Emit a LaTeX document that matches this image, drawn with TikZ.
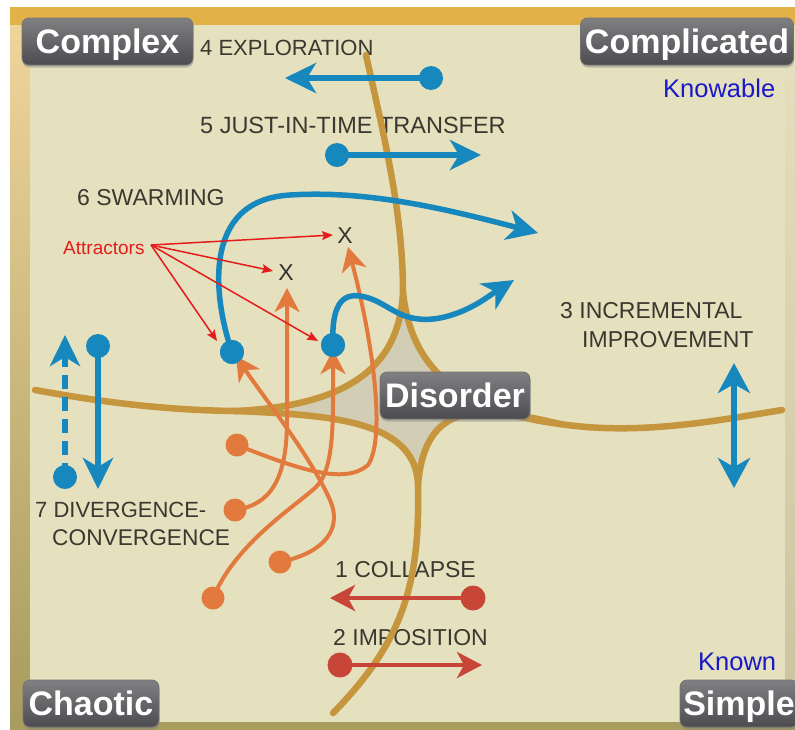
\documentclass[tikz,border=0pt]{standalone}
\usepackage{fontspec}
\setmainfont{Liberation Sans}
\usetikzlibrary{arrows.meta,shadows}

\definecolor{cream}{RGB}{229,224,189}
\definecolor{gold}{RGB}{226,178,72}
\definecolor{olive}{RGB}{168,156,94}
\definecolor{boundary}{RGB}{198,150,62}
\definecolor{disorderfill}{RGB}{210,206,181}
\definecolor{cynblue}{RGB}{22,136,190}
\definecolor{cynorange}{RGB}{226,122,62}
\definecolor{cynred}{RGB}{200,70,56}
\definecolor{attred}{RGB}{228,28,28}
\definecolor{labelgray}{RGB}{58,56,48}
\definecolor{knowblue}{RGB}{25,25,200}
\definecolor{boxtop}{RGB}{128,128,131}
\definecolor{boxbot}{RGB}{76,76,80}

\newcommand\domfont{\fontsize{34}{40}\selectfont\bfseries}

\begin{document}
\begin{tikzpicture}[x=1pt,y=-1pt,
  domainbox/.style={rounded corners=7pt, top color=boxtop, bottom color=boxbot,
    draw=black!55, line width=0.8pt, text=white, font=\domfont,
    inner sep=0pt, text height=24.3pt, text depth=0pt, minimum height=47pt,
    drop shadow={shadow xshift=0.5pt, shadow yshift=-2.5pt, opacity=0.45}},
  lab/.style={text=labelgray, inner sep=0pt, anchor=base west,
    font=\fontsize{23}{26}\selectfont},
  know/.style={text=knowblue, inner sep=0pt, anchor=base west,
    font=\fontsize{25.5}{28}\selectfont},
  bound/.style={draw=boundary, line width=6.5pt, line cap=round},
  bdot/.style={circle, fill=cynblue, minimum size=24pt, inner sep=0pt},
  odot/.style={circle, fill=cynorange, minimum size=23pt, inner sep=0pt},
  rdot/.style={circle, fill=cynred, minimum size=25pt, inner sep=0pt},
  bline/.style={draw=cynblue, line width=5.5pt,
    -{Stealth[length=31pt,width=30pt,inset=9pt]}},
  oline/.style={draw=cynorange, line width=4pt,
    -{Stealth[length=24pt,width=25pt,inset=7pt]}},
  rline/.style={draw=cynred, line width=4.5pt,
    -{Stealth[length=25pt,width=26pt,inset=7pt]}},
  attline/.style={draw=attred, line width=1.5pt,
    -{Stealth[length=11pt,width=9pt,inset=2pt]}},
  xmark/.style={text=black!80, inner sep=0pt, font=\fontsize{23}{23}\selectfont}
]
\useasboundingbox (0,0) rectangle (795,729);

% frame and panel
\fill[white] (0,0) rectangle (795,729);
\shade[top color=gold, bottom color=olive] (10,7) rectangle (795,729);
\shade[top color=gold!55!white, middle color=white!88!cream, bottom color=olive]
  (10,25) rectangle (30,722);
\shade[top color=cream, middle color=white!90!cream, bottom color=olive!60!white]
  (785,25) rectangle (795,722);
\fill[gold] (10,7) rectangle (795,25);
\fill[olive] (10,722) rectangle (795,729);
\fill[cream] (30,25) rectangle (785,722);

% cusp points of the central region
\coordinate (T) at (403,292);
\coordinate (L) at (235,411);
\coordinate (B) at (418,485);
\coordinate (R) at (560,424);

% central disorder region
\fill[disorderfill] (T) .. controls (410,360) and (450,410) .. (R)
  .. controls (480,405) and (425,400) .. (B)
  .. controls (416,420) and (330,415) .. (L)
  .. controls (370,405) and (400,350) .. (T) -- cycle;

% text labels
\node[lab, font=\fontsize{22}{26}\selectfont] (l4) at (200,55) {4 EXPLORATION};
\node[lab, font=\fontsize{23.5}{26}\selectfont] (l5) at (200,133) {5 JUST-IN-TIME TRANSFER};
\node[lab] (l6) at (77,205) {6 SWARMING};
\node[lab] (l3a) at (560,318) {3 INCREMENTAL};
\node[lab] (l3b) at (582,347) {IMPROVEMENT};
\node[lab, font=\fontsize{22}{26}\selectfont] (l7a) at (35,517) {7 DIVERGENCE-};
\node[lab, font=\fontsize{22.7}{26}\selectfont] (l7b) at (52,545) {CONVERGENCE};
\node[lab] (l1) at (335,577) {1 COLLAPSE};
\node[lab] (l2) at (333,645) {2 IMPOSITION};
\node[know] (kn1) at (663,97) {Knowable};
\node[know] (kn2) at (698,670) {Known};

% domain boundaries
\draw[bound] (366,55) .. controls (385,140) and (403,215) .. (T);
\draw[bound] (T) .. controls (400,350) and (370,405) .. (L);
\draw[bound] (T) .. controls (410,360) and (450,410) .. (R);
\draw[bound] (L) .. controls (330,415) and (416,420) .. (B);
\draw[bound] (R) .. controls (480,405) and (425,400) .. (B);
\draw[bound] (L) .. controls (150,410) and (80,398) .. (35,390);
\draw[bound] (R) .. controls (640,436) and (720,420) .. (782,410);
\draw[bound] (B) .. controls (420,580) and (405,640) .. (333,713);

% 1 collapse, 2 imposition
\node[rdot] (d1) at (473,598) {};
\coordinate (t1) at (330,598);
\draw[rline] (d1.center) -- (t1);
\node[rdot] (d2) at (340,665) {};
\coordinate (t2) at (482,665);
\draw[rline] (d2.center) -- (t2);

% 3 incremental improvement
\coordinate (t3a) at (734,363);
\coordinate (t3b) at (734,488);
\draw[draw=cynblue, line width=5.5pt,
  {Stealth[length=30pt,width=32pt,inset=9pt]}-{Stealth[length=30pt,width=32pt,inset=9pt]}]
  (t3a) -- (t3b);

% 4 exploration, 5 just-in-time transfer
\node[bdot] (d4) at (431,78) {};
\coordinate (t4) at (285,78);
\draw[bline] (d4.center) -- (t4);
\node[bdot] (d5) at (337,155) {};
\coordinate (t5) at (481,155);
\draw[bline] (d5.center) -- (t5);

% 7 divergence-convergence
\node[bdot] (d7a) at (65,477) {};
\coordinate (t7a) at (65,335);
\draw[bline, dash pattern=on 14pt off 8pt] (d7a.center) -- (t7a);
\node[bdot] (d7b) at (98,346) {};
\coordinate (t7b) at (98,489);
\draw[bline] (d7b.center) -- (t7b);

% orange trajectories
\node[odot] (o1) at (237,445) {};
\node[odot] (o2) at (235,510) {};
\node[odot] (o3) at (280,562) {};
\node[odot] (o4) at (213,598) {};
\node[bdot] (s1) at (232,352) {};
\node[bdot] (s2) at (333,345) {};
\node[xmark] (x1) at (286,273) {X};
\node[xmark] (x2) at (345,236) {X};
\coordinate (tx1) at (287,288);
\coordinate (tx2) at (348,247);
\coordinate (ts1) at (236,356);
\coordinate (ts2) at (333,350);

\draw[oline] (o1.center) .. controls (300,470) and (345,485) .. (368,465)
  .. controls (385,440) and (375,350) .. (tx2);
\draw[oline] (o2.center) .. controls (270,505) and (287,480) .. (287,420) -- (tx1);
\draw[oline] (o3.center) .. controls (315,555) and (345,535) .. (330,500)
  .. controls (310,455) and (262,395) .. (ts1);
\draw[oline] (o4.center) .. controls (235,545) and (290,510) .. (315,488)
  .. controls (335,470) and (333,420) .. (ts2);

% 6 swarming
\coordinate (t6a) at (538,233);
\coordinate (t6b) at (514,280);
\draw[bline] (s1.center) .. controls (214,300) and (200,200) .. (290,195)
  .. controls (370,190) and (450,210) .. (t6a);
\draw[bline] (s2.center) .. controls (331,300) and (345,292) .. (365,297)
  .. controls (390,303) and (400,325) .. (440,318)
  .. controls (470,312) and (490,295) .. (t6b);
\node[bdot] at (s1) {};
\node[bdot] at (s2) {};

% attractors
\node[text=attred, inner sep=0pt, anchor=base west,
  font=\fontsize{19}{21}\selectfont] (attr) at (63,254) {Attractors};
\coordinate (src) at (151,245);
\coordinate (a1) at (333,235);
\coordinate (a2) at (273,271);
\coordinate (a3) at (217,341);
\coordinate (a4) at (318,341);
\draw[attline] (src) -- (a1);
\draw[attline] (src) -- (a2);
\draw[attline] (src) -- (a3);
\draw[attline] (src) -- (a4);

% domain names
\node[domainbox, minimum width=171pt] (complex) at (107.5,41.5) {Complex};
\node[domainbox, minimum width=213pt] (complicated) at (687,41.5) {Complicated};
\node[domainbox, minimum width=136pt] (chaotic) at (91,703.5) {Chaotic};
\node[domainbox, minimum width=118pt] (simple) at (739,703.5) {Simple};
\node[domainbox, minimum width=150pt] (disorder) at (455,395.5) {Disorder};
\end{tikzpicture}
\end{document}
